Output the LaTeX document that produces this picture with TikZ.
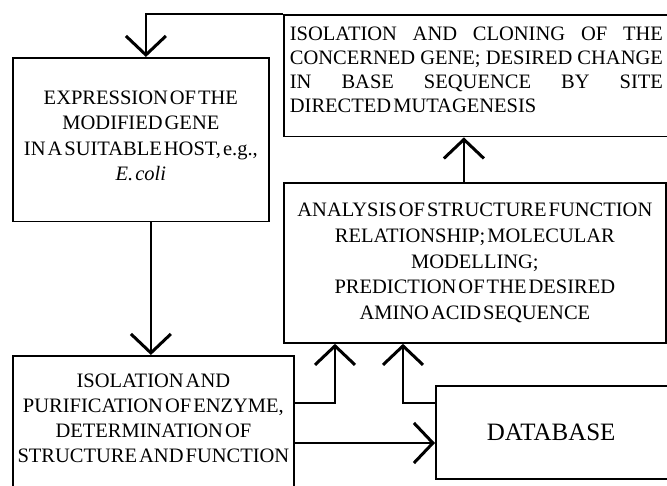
\documentclass[tikz,border=0pt]{standalone}
\usepackage{fontspec}
\setmainfont{Liberation Serif}
\usetikzlibrary{arrows.meta}
\tikzset{
	box/.style={draw, line width=1.8pt, inner sep=5pt, align=center,
		font=\fontsize{20.5}{25}\selectfont,
		execute at begin node={\spaceskip=0.1em\relax}},
	arr/.style={line width=2.6pt, -{Straight Barb[length=19pt,width=40pt,line width=3pt]}}
}

\begin{document}
\begin{tikzpicture}[x=1pt,y=-1pt]
			%%%%% START %%%%%
			\def\xl{12}
			\def\xr{283}
			\useasboundingbox (0,0) rectangle (667,485);
			\clip (0,0) rectangle (667,485);
			
			\node[box, anchor=north west, inner xsep=6pt, inner ysep=12pt, text width=373pt, align=justify, text depth=84pt,
				font=\fontsize{20.5}{24}\selectfont, execute at begin node={\spaceskip=0.1em plus 8em\relax}] (topbox) at (\xr,14)
				{ISOLATION AND CLONING OF THE\linebreak CONCERNED GENE; DESIRED CHANGE\linebreak IN BASE SEQUENCE BY SITE\linebreak DIRECTED MUTAGENESIS};
			
			\node[box, anchor=north west, inner ysep=33pt, text width=246pt, text depth=84pt, font=\fontsize{20.5}{25.3}\selectfont] (leftbox) at (\xl,57)
				{EXPRESSION OF THE\\ MODIFIED GENE\\ IN A SUITABLE HOST, e.g.,\\ \textit{E. coli}};
			
			\node[box, anchor=north west, minimum height=160pt, text width=372pt, font=\fontsize{20.5}{25.7}\selectfont] (midbox) at (\xr,182)
				{ANALYSIS OF STRUCTURE FUNCTION\\ RELATIONSHIP; MOLECULAR\\ MODELLING;\\ PREDICTION OF THE DESIRED\\ AMINO ACID SEQUENCE};
			
			\node[box, anchor=north west, inner xsep=3pt, inner ysep=18pt, text width=275pt, text depth=140pt] (botbox) at (\xl,355)
				{ISOLATION AND\\ PURIFICATION OF ENZYME,\\ DETERMINATION OF\\ STRUCTURE AND FUNCTION};
			
			\node[box, anchor=north west, minimum height=93pt, inner xsep=51pt, text width=200pt, align=left, font=\fontsize{25}{30}\selectfont] (dbbox) at (435,385)
				{DATABASE};
			
			%%%%% ARROWS %%%%%
			\draw[arr] (topbox.north west) -| ([xshift=5pt]leftbox.north);
			
			\coordinate (l1) at ([xshift=10pt]leftbox.south);
			\draw[arr] (l1) -- (l1 |- botbox.north);
			
			\coordinate (m1) at ([xshift=-11pt]midbox.north);
			\draw[arr] (m1) -- (m1 |- topbox.south);
			
			\coordinate (b1) at ([yshift=-48pt]botbox.north east);
			\coordinate (m2) at ([xshift=52pt]midbox.south west);
			\draw[arr] (b1) -| (m2);
			
			\coordinate (b2) at ([yshift=-88pt]botbox.north east);
			\draw[arr] (b2) -- (b2 -| dbbox.west);
			
			\coordinate (d1) at ([yshift=-18pt]dbbox.north west);
			\coordinate (m3) at ([xshift=120pt]midbox.south west);
			\draw[arr] (d1) -| (m3);
			%%%%% END %%%%%
\end{tikzpicture}
\end{document}
